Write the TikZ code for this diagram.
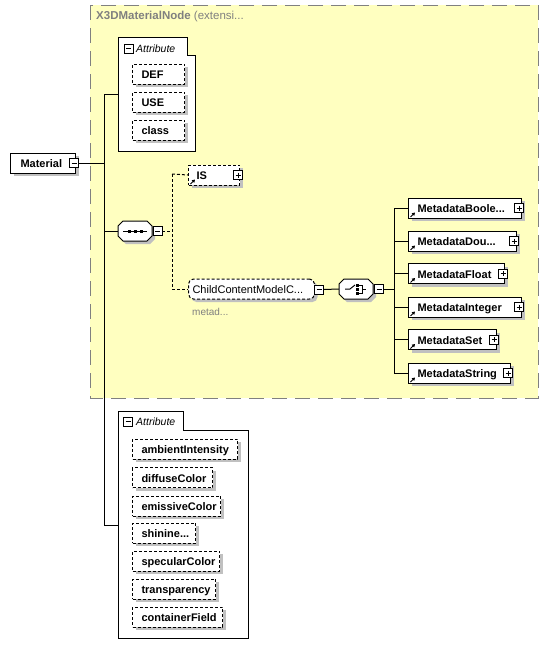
\documentclass[tikz,border=0pt]{standalone}
\usepackage{fontspec}
\setmainfont{Liberation Sans}
\usetikzlibrary{shadows,arrows.meta,calc}
\definecolor{grpyellow}{HTML}{FFFFC0}
\definecolor{grpborder}{HTML}{808080}
\definecolor{shadowgray}{HTML}{C0C0C0}
\newcommand\bt[3]{\makebox[#1pt][l]{\hspace*{#2pt}#3}}
\newcommand\octa[2]{%
  \begin{scope}[shift={(#1+3,#2+3)}]
    \fill[shadowgray] (-17,-5)--(-12,-10)--(12,-10)--(17,-5)--(17,5)--(12,10)--(-12,10)--(-17,5)--cycle;
  \end{scope}
  \begin{scope}[shift={(#1,#2)}]
    \draw[oct] (-17,-5)--(-12,-10)--(12,-10)--(17,-5)--(17,5)--(12,10)--(-12,10)--(-17,5)--cycle;
  \end{scope}}
\begin{document}
\begin{tikzpicture}[x=1pt,y=-1pt,
  conn/.style={line width=1pt},
  optconn/.style={conn, dash pattern=on 3pt off 2pt},
  shad/.style={drop shadow={shadow xshift=3pt,shadow yshift=-3pt,fill=shadowgray,opacity=1}},
  bx/.style={draw, fill=white, line width=1pt, minimum height=20pt, inner sep=0pt, anchor=west,
    font=\fontsize{11}{13}\selectfont\bfseries, text height=9pt, text depth=0pt, shad},
  optbx/.style={bx, dash pattern=on 3pt off 2pt},
  pm/.style={draw, fill=white, line width=0.8pt, minimum size=9pt, inner sep=0pt},
  minusbox/.style={pm, path picture={\draw[line width=0.8pt] ([xshift=2pt]path picture bounding box.west) -- ([xshift=-2pt]path picture bounding box.east);}},
  plusbox/.style={pm, path picture={\draw[line width=0.8pt] ([xshift=2pt]path picture bounding box.west) -- ([xshift=-2pt]path picture bounding box.east) ([yshift=-2pt]path picture bounding box.north) -- ([yshift=2pt]path picture bounding box.south);}},
  refarrow/.style={-{Triangle[length=3pt,width=3.5pt]}, line width=1pt},
  cont/.style={draw, fill=white, line width=1pt},
  hdr/.style={anchor=west, font=\fontsize{10.5}{12}\selectfont\itshape, inner sep=0pt},
  oct/.style={draw, fill=white, line width=1pt},
  hook/.style={minimum width=34pt, minimum height=20pt, inner sep=0pt},
]
\path[fill=white] (0,0) rectangle (549,656);
\useasboundingbox (0,0) rectangle (549,656);

% group
\draw[fill=grpyellow, draw=grpborder, line width=1pt, dash pattern=on 15pt off 8pt] (90,5) rectangle (538,398);
\node[anchor=west, inner sep=0pt, text=grpborder, font=\fontsize{11.5}{13}\selectfont] (grptitle) at (96,17) {\textbf{X3DMaterialNode} (extensi...};

% attribute group 1
\draw[cont] (118,37) -- (187,37) -- (187,55) -- (195,55) -- (195,151) -- (118,151) -- cycle;
\coordinate (a1) at (118,94);
\node[minusbox] (a1m) at (128.5,48.5) {};
\node[hdr] (a1h) at (136,48.5) {Attribute};
\node[optbx] (def) at (132,74) {\bt{52}{9}{DEF}};
\node[optbx] (use) at (132,102) {\bt{52}{9}{USE}};
\node[optbx] (cls) at (132,130) {\bt{52}{9}{class}};

% Material
\node[bx] (mat) at (10,163) {\bt{65}{10}{Material}};
\node[minusbox] (matm) at (74,163) {};
\coordinate (tk) at (104,163);
\coordinate (tk1) at (104,94);
\coordinate (tk2) at (104,231);
\coordinate (tk3) at (104,525);
\draw[conn] (matm.east) -- (tk);
\draw[conn] (tk1) -- (tk3);
\draw[conn] (tk1) -- (a1);

% sequence
\node[hook] (seq) at (135,231) {};
\octa{135}{231}
\draw[line width=1pt] (123,231) -- (147,231);
\fill (127.5,229.5) rectangle ++(3,3);
\fill (133.5,229.5) rectangle ++(3,3);
\fill (139.5,229.5) rectangle ++(3,3);
\draw[conn] (tk2) -- (seq.west);
\node[minusbox] (seqm) at (157.5,231) {};
\coordinate (br) at (172,231);
\coordinate (brt) at (172,174);
\coordinate (brb) at (172,289);
\draw[optconn] (seqm.east) -- (br);
\draw[optconn] (brt) -- (brb);

% IS
\node[optbx] (is) at (188,175) {\bt{51}{8}{IS}};
\node[plusbox] (isp) at (238,175) {};
\draw[refarrow] ([xshift=2.5pt,yshift=1.5pt]is.south west) -- ++(4.5,-4.5);
\draw[optconn] (brt) -- (is.west);

% ChildContentModel
\node[optbx, rounded corners=5pt, font=\fontsize{11}{13}\selectfont] (cc) at (188,289) {\bt{126}{4}{ChildContentModelC...}};
\node[minusbox] (ccm) at (319,289.5) {};
\node[anchor=west, inner sep=0pt, text=grpborder, font=\fontsize{10}{12}\selectfont] (ccann) at (192,312) {metad...};
\draw[optconn] (brb) -- (cc.west);

% choice
\node[hook] (ch) at (356,289) {};
\octa{356}{289}
\draw[line width=1pt] (345,289) -- (350,289) -- (355,285);
\fill (356,283.5) rectangle ++(3,3);
\fill (356,287.5) rectangle ++(3,3);
\fill (356,291.5) rectangle ++(3,3);
\draw[line width=0.8pt] (359,285) -- (362,285) -- (362,293) -- (359,293);
\draw[line width=0.8pt] (362,289) -- (366,289);
\draw[conn] (ccm.east) -- (ch.west);
\node[minusbox] (chm) at (379,289) {};
\coordinate (cb) at (394,289);
\coordinate (cbt) at (394,208);
\coordinate (cbb) at (394,373);
\draw[conn] (chm.east) -- (cb);
\draw[conn] (cbt) -- (cbb);

% metadata
\node[bx] (m1) at (408,208) {\bt{113}{9}{MetadataBoole...}};
\node[plusbox] (m1p) at (519,208) {};
\node[bx] (m2) at (408,241) {\bt{108}{9}{MetadataDou...}};
\node[plusbox] (m2p) at (514,241) {};
\node[bx] (m3) at (408,273.5) {\bt{96}{9}{MetadataFloat}};
\node[plusbox] (m3p) at (503,273.5) {};
\node[bx] (m4) at (408,307) {\bt{113}{9}{MetadataInteger}};
\node[plusbox] (m4p) at (519,307) {};
\node[bx] (m5) at (408,339.5) {\bt{88}{9}{MetadataSet}};
\node[plusbox] (m5p) at (494,339.5) {};
\node[bx] (m6) at (408,373) {\bt{102}{9}{MetadataString}};
\node[plusbox] (m6p) at (508,373) {};
\foreach \m in {m1,m2,m3,m4,m5,m6}{
  \draw[conn] (\m.west -| cb) -- (\m.west);
  \draw[refarrow] ([xshift=2.5pt,yshift=1.5pt]\m.south west) -- ++(4.5,-4.5);
}

% attribute group 2
\draw[cont] (118,411) -- (183,411) -- (183,430) -- (248,430) -- (248,638) -- (118,638) -- cycle;
\coordinate (a2) at (118,525);
\draw[conn] (tk3) -- (a2);
\node[minusbox] (a2m) at (128,421.5) {};
\node[hdr] (a2h) at (136,421.5) {Attribute};
\node[optbx] (amb) at (132,449) {\bt{105}{9}{ambientIntensity}};
\node[optbx] (dif) at (132,477.5) {\bt{80}{9}{diffuseColor}};
\node[optbx] (emi) at (132,506) {\bt{88}{9}{emissiveColor}};
\node[optbx] (shi) at (132,533) {\bt{63}{9}{shinine...}};
\node[optbx] (spe) at (132,561) {\bt{87}{9}{specularColor}};
\node[optbx] (tra) at (132,589) {\bt{83}{9}{transparency}};
\node[optbx] (con) at (132,617) {\bt{90}{9}{containerField}};
\end{tikzpicture}
\end{document}
